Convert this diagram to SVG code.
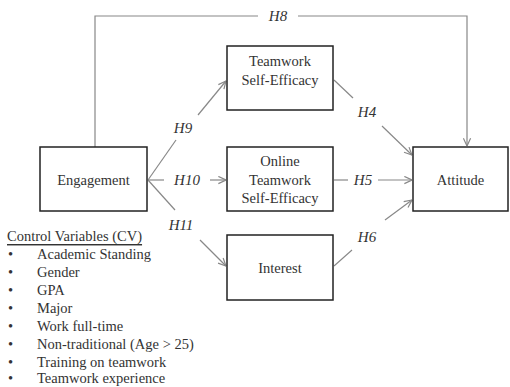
<svg xmlns="http://www.w3.org/2000/svg" width="510" height="387" viewBox="0 0 510 387">
<style>
.box{fill:#fff;stroke:#222;stroke-width:1.5}
text{font-family:"Liberation Serif","Times New Roman",Tinos,"DejaVu Serif",serif}
.t{font-size:14.5px;fill:#333;text-anchor:middle;dominant-baseline:central}
.h{font-size:15px;font-style:italic;fill:#333;text-anchor:middle;dominant-baseline:central}
.l{font-size:14.5px;fill:#333;dominant-baseline:central}
.c{fill:none;stroke:#888;stroke-width:1.2}
</style>
<defs>
<marker id="a" viewBox="0 0 10 10" refX="9.5" refY="5" markerWidth="9" markerHeight="9" markerUnits="userSpaceOnUse" orient="auto">
<path d="M1,1 L9.5,5 L1,9" fill="none" stroke="#888" stroke-width="1.3"/>
</marker>
</defs>
<rect width="510" height="387" fill="#fff"/>
<g id="connectors">
<polyline class="c" points="95,147 95,16 258,16"/>
<polyline class="c" points="298,16 467,16 467,146" marker-end="url(#a)"/>
<line class="c" x1="148" y1="180" x2="176" y2="140"/>
<line class="c" x1="198" y1="115" x2="226" y2="81" marker-end="url(#a)"/>
<line class="c" x1="148" y1="180" x2="164" y2="180"/>
<line class="c" x1="210" y1="180" x2="226" y2="180" marker-end="url(#a)"/>
<line class="c" x1="148" y1="180" x2="175" y2="210"/>
<line class="c" x1="200" y1="240" x2="226" y2="266" marker-end="url(#a)"/>
<line class="c" x1="334" y1="80" x2="353" y2="98"/>
<line class="c" x1="382" y1="126" x2="412" y2="155" marker-end="url(#a)"/>
<line class="c" x1="334" y1="180" x2="348" y2="180"/>
<line class="c" x1="378" y1="180" x2="412" y2="180" marker-end="url(#a)"/>
<line class="c" x1="334" y1="266" x2="352" y2="250"/>
<line class="c" x1="385" y1="220" x2="412" y2="200" marker-end="url(#a)"/>
<text class="h" x="278" y="16">H8</text>
<text class="h" x="183" y="128">H9</text>
<text class="h" x="187" y="180">H10</text>
<text class="h" x="181" y="225">H11</text>
<text class="h" x="367" y="112">H4</text>
<text class="h" x="363" y="180">H5</text>
<text class="h" x="367" y="237">H6</text>
</g>
<g id="engagement">
<rect class="box" x="40" y="147" width="107" height="64"/>
<text class="t" x="93.5" y="180">Engagement</text>
</g>
<g id="teamwork-se">
<rect class="box" x="227" y="46" width="106" height="64"/>
<text class="t" x="280" y="61">Teamwork</text>
<text class="t" x="280" y="80">Self-Efficacy</text>
</g>
<g id="online-se">
<rect class="box" x="227" y="147" width="106" height="64"/>
<text class="t" x="280" y="161">Online</text>
<text class="t" x="280" y="180">Teamwork</text>
<text class="t" x="280" y="198">Self-Efficacy</text>
</g>
<g id="interest">
<rect class="box" x="227" y="235" width="106" height="65"/>
<text class="t" x="280" y="268">Interest</text>
</g>
<g id="attitude">
<rect class="box" x="413" y="147" width="95" height="64"/>
<text class="t" x="460.5" y="180">Attitude</text>
</g>
<g id="control-variables">
<text class="l" x="7" y="236" text-decoration="underline">Control Variables (CV)</text>
<text class="l" x="8" y="254">•</text><text class="l" x="37" y="254">Academic Standing</text>
<text class="l" x="8" y="272">•</text><text class="l" x="37" y="272">Gender</text>
<text class="l" x="8" y="290">•</text><text class="l" x="37" y="290">GPA</text>
<text class="l" x="8" y="308">•</text><text class="l" x="37" y="308">Major</text>
<text class="l" x="8" y="326">•</text><text class="l" x="37" y="326">Work full-time</text>
<text class="l" x="8" y="344">•</text><text class="l" x="37" y="344">Non-traditional (Age &gt; 25)</text>
<text class="l" x="8" y="362">•</text><text class="l" x="37" y="362">Training  on teamwork</text>
<text class="l" x="8" y="378">•</text><text class="l" x="37" y="378">Teamwork experience</text>
</g>
</svg>
